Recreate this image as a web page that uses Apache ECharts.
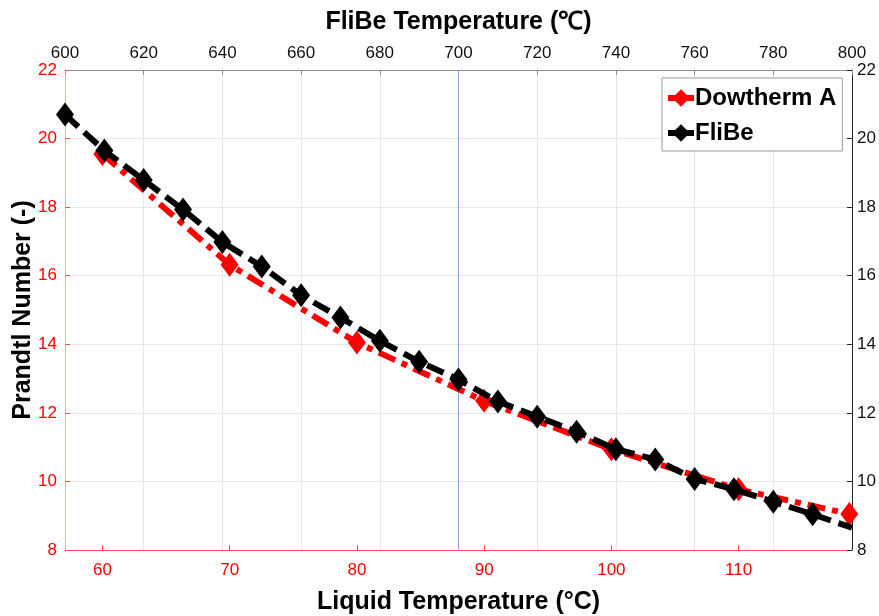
<!DOCTYPE html>
<html>
<head>
<meta charset="utf-8">
<script src="https://cdn.jsdelivr.net/npm/echarts@6/dist/echarts.min.js"></script>
<style>
  html, body { margin: 0; padding: 0; background: #fff; }
  #main { width: 879px; height: 616px; }
</style>
</head>
<body>
<div id="main"></div>
<script>
// liquid (Dowtherm A) temperatures, bottom axis
var liquidTemp = [60, 70, 80, 90, 100, 110, 118.7];
var dowthermPr = [19.55, 16.32, 14.05, 12.35, 10.94, 9.77, 9.05];
var liquidTicks = [60, 70, 80, 90, 100, 110];
// FliBe temperatures, top axis
var flibeTemp = [600, 610, 620, 630, 640, 650, 660, 670, 680, 690, 700, 710, 720, 730, 740, 750, 760, 770, 780, 790, 800];
var flibePr = [20.70, 19.65, 18.79, 17.93, 16.98, 16.27, 15.43, 14.78, 14.10, 13.49, 12.97, 12.33, 11.89, 11.45, 10.94, 10.64, 10.07, 9.77, 9.41, 9.04, 8.65];
var refLine = [[700, 8], [700, 22]];

var chart = echarts.init(document.getElementById('main'));

function pairs(xs, ys) {
  return xs.map(function (x, i) { return [x, ys[i]]; });
}

var flibeData = pairs(flibeTemp, flibePr);
// last point has no marker
flibeData[flibeData.length - 1] = { value: flibeData[flibeData.length - 1], symbol: 'none' };

var font = 'Liberation Sans, Arial, sans-serif';

var option = {
  animation: false,
  backgroundColor: '#fff',
  grid: { left: 65, right: 27, top: 70, bottom: 66, outerBoundsMode: 'none', containLabel: false },
  legend: {
    orient: 'vertical',
    left: 662,
    top: 78,
    padding: [8, 6, 6, 3],
    itemGap: 11,
    itemWidth: 26,
    itemHeight: 22,
    borderColor: '#9a9a9a',
    borderWidth: 1,
    backgroundColor: '#fff',
    lineStyle: { type: 'solid', width: 6 },
    textStyle: { fontFamily: font, fontSize: 24, fontWeight: 'bold', color: '#000', padding: [0, 0, 0, -4] },
    data: ['Dowtherm A', 'FliBe']
  },
  xAxis: [{
    type: 'value',
    position: 'bottom',
    min: 57.06,
    max: 118.91,
    name: 'Liquid Temperature (°C)',
    nameLocation: 'middle',
    nameGap: 40,
    nameMoveOverlap: false,
    nameTextStyle: { fontFamily: font, fontSize: 25, fontWeight: 'bold', color: '#000' },
    axisLine: { show: true, lineStyle: { color: '#ff4d4d', width: 1 } },
    axisTick: { show: true, inside: true, length: 5, customValues: liquidTicks, lineStyle: { color: '#ff4d4d' } },
    axisLabel: {
      fontFamily: font, fontSize: 17, color: '#ff0000', margin: 12,
      customValues: liquidTicks
    },
    splitLine: { show: false }
  }, {
    type: 'value',
    position: 'top',
    min: 600,
    max: 800,
    interval: 20,
    name: 'FliBe Temperature (℃)',
    nameLocation: 'middle',
    nameGap: 35,
    nameMoveOverlap: false,
    nameTextStyle: { fontFamily: font, fontSize: 25, fontWeight: 'bold', color: '#000' },
    axisLine: { show: true, lineStyle: { color: '#8c8c8c', width: 1 } },
    axisTick: { show: true, inside: true, length: 5, lineStyle: { color: '#8c8c8c' } },
    axisLabel: { fontFamily: font, fontSize: 17, color: '#111', margin: 8 },
    splitLine: { show: true, lineStyle: { color: '#e6e6e6', width: 1 } }
  }],
  yAxis: [{
    type: 'value',
    position: 'left',
    min: 8,
    max: 22,
    interval: 2,
    name: 'Prandtl Number (-)',
    nameLocation: 'middle',
    nameGap: 29,
    nameMoveOverlap: false,
    nameTextStyle: { fontFamily: font, fontSize: 25, fontWeight: 'bold', color: '#000' },
    axisLine: { show: true, lineStyle: { color: '#f6aaaa', width: 1 } },
    axisTick: { show: true, inside: true, length: 5, lineStyle: { color: '#ff4d4d' } },
    axisLabel: { fontFamily: font, fontSize: 17, color: '#ff0000', margin: 8 },
    splitLine: { show: true, lineStyle: { color: '#e6e6e6', width: 1 } }
  }, {
    type: 'value',
    position: 'right',
    min: 8,
    max: 22,
    interval: 2,
    axisLine: { show: true, lineStyle: { color: '#262626', width: 1 } },
    axisTick: { show: true, inside: true, length: 5, lineStyle: { color: '#262626' } },
    axisLabel: { fontFamily: font, fontSize: 17, color: '#111', margin: 5 },
    splitLine: { show: false }
  }],
  series: [{
    name: 'ref',
    type: 'line',
    xAxisIndex: 1,
    yAxisIndex: 0,
    data: refLine,
    symbol: 'none',
    silent: true,
    z: 2,
    lineStyle: { color: '#8ea6e0', width: 1 }
  }, {
    name: 'Dowtherm A',
    type: 'line',
    xAxisIndex: 0,
    yAxisIndex: 0,
    data: pairs(liquidTemp, dowthermPr),
    symbol: 'diamond',
    symbolSize: [18, 24],
    clip: false,
    z: 3,
    itemStyle: { color: '#ff0000' },
    lineStyle: { color: '#ff0000', width: 6, type: [18, 7, 6, 7], cap: 'butt' }
  }, {
    name: 'FliBe',
    type: 'line',
    xAxisIndex: 1,
    yAxisIndex: 0,
    data: flibeData,
    symbol: 'diamond',
    symbolSize: [18, 24],
    clip: false,
    z: 4,
    itemStyle: { color: '#000' },
    lineStyle: { color: '#000', width: 6, type: [18, 8], cap: 'butt' }
  }]
};

chart.setOption(option);
</script>
</body>
</html>
